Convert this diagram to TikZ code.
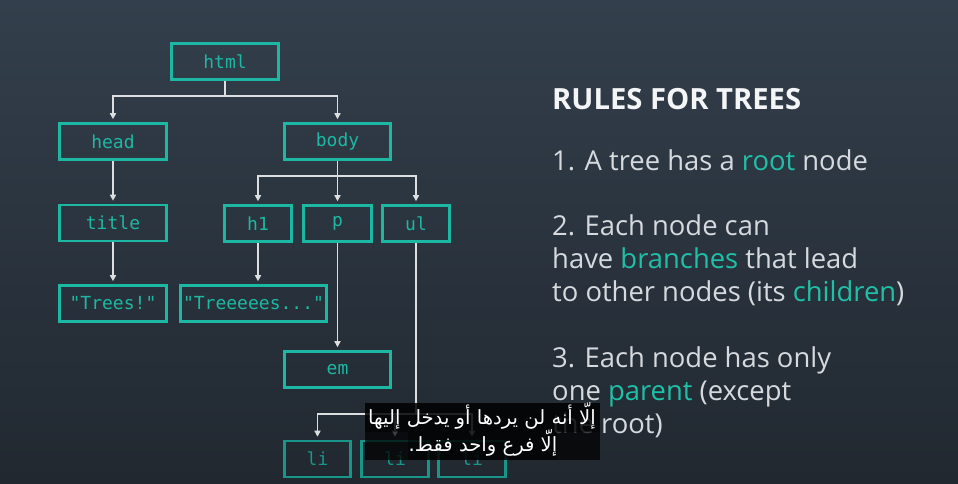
\documentclass[tikz,border=0pt]{standalone}
\usepackage{fontspec}
\setmainfont{Open Sans}
\newfontfamily\codefont{DejaVu Sans Mono}
\newfontfamily\arabicfont[Script=Arabic]{DejaVu Sans}
\TeXXeTstate=1
\usetikzlibrary{arrows.meta}

\definecolor{bgtop}{HTML}{333F4C}
\definecolor{bgmid}{HTML}{2E3946}
\definecolor{bgbot}{HTML}{212830}
\definecolor{boxteal}{HTML}{1DB8A3}
\definecolor{dimteal}{HTML}{18968A}
\definecolor{hlteal}{HTML}{20C0A8}
\definecolor{linegray}{HTML}{DCDEE0}
\definecolor{rulegray}{HTML}{D6DADE}
\definecolor{titlewhite}{HTML}{F4F5F6}

\newcommand{\hlword}[1]{\textcolor{hlteal}{#1}}

\begin{document}
\begin{tikzpicture}[x=1pt,y=-1pt,
  tag/.style={draw=boxteal, line width=2.6pt, text=boxteal,
    font=\codefont\fontsize{18}{20}\selectfont,
    minimum height=36pt, inner sep=0pt},
  dimtag/.style={tag, draw=dimteal, text=dimteal},
  conn/.style={draw=linegray, line width=1.5pt,
    -{Triangle[length=6pt,width=6pt]}, shorten >=3pt},
  rule/.style={anchor=base west, inner sep=0pt, text=rulegray,
    font=\fontsize{27.4}{32}\selectfont},
  subline/.style={anchor=base, inner sep=0pt, text=white,
    font=\arabicfont\fontsize{19.6}{22}\selectfont}]

% canvas
\useasboundingbox (0,0) rectangle (958,483);
\shade[top color=bgtop, middle color=bgmid, bottom color=bgbot]
  (0,0) rectangle (958,483);

% DOM tree
\node[tag, minimum width=107pt] (html)  at (225,61.5)  {html};
\node[tag, minimum width=107pt] (head)  at (113,141.5) {head};
\node[tag, minimum width=106pt] (body)  at (337.5,141.5) {body};
\node[tag, minimum width=107pt] (title) at (113,223)   {title};
\node[tag, minimum width=67pt]  (h1)    at (258,223.5) {h1};
\node[tag, minimum width=68pt]  (p)     at (337.5,223.5) {p};
\node[tag, minimum width=67pt]  (ul)    at (416,223.5) {ul};
\node[tag, minimum width=107pt] (trees) at (113,303.5) {"Trees!"};
\node[tag, minimum width=146pt] (treeeees) at (253.5,303.5) {"Treeeees..."};
\node[tag, minimum width=106pt] (em)    at (337.5,369.5) {em};
\node[dimtag, minimum width=66pt] (lione)   at (317.5,459) {li};
\node[dimtag, minimum width=67pt] (litwo)   at (395,459)   {li};
\node[dimtag, minimum width=67pt] (lithree) at (472,459)   {li};

% branches
\draw[conn] (html.south) -- ++(0,15) -| (head.north);
\draw[conn] (html.south) -- ++(0,15) -| (body.north);
\draw[conn] (head.south) -- (title.north);
\draw[conn] (title.south) -- (trees.north);
\draw[conn] (body.south) -- ++(0,15) -| (h1.north);
\draw[conn] (body.south) -- (p.north);
\draw[conn] (body.south) -- ++(0,15) -| (ul.north);
\draw[conn] (h1.south) -- (h1.south |- treeeees.north);
\draw[conn] (p.south) -- (em.north);
\draw[conn] (ul.south) -- ++(0,171) -| (lione.north);
\draw[conn] (ul.south) -- ++(0,171) -| (litwo.north);
\draw[conn] (ul.south) -- ++(0,171) -| (lithree.north);

% rules
\node[anchor=base west, inner sep=0pt, text=titlewhite,
  font=\bfseries\fontsize{29.2}{32}\selectfont] (rulestitle) at (552,109) {RULES FOR TREES};
\node[rule] (ruleone)   at (552,170) {1. A tree has a \hlword{root} node};
\node[rule] (ruletwoa)  at (552,235) {2. Each node can};
\node[rule] (ruletwob)  at (552,268) {have \hlword{branches} that lead};
\node[rule] (ruletwoc)  at (552,301) {to other nodes (its \hlword{children})};
\node[rule] (rulethra)  at (552,367) {3. Each node has only};
\node[rule] (rulethrb)  at (552,400) {one \hlword{parent} (except};
\node[rule] (rulethrc)  at (552,433) {the root)};

% caption band
\fill[black, opacity=0.72] (365,403) rectangle (600,460);
\fill[black, opacity=0.45] (365,403) rectangle (600,432);
\fill[black, opacity=0.45] (408,432) rectangle (557,460);
\node[subline] (subone) at (482,424) {\beginR إلّا أنه لن يردها أو يدخل إليها\endR};
\node[subline] (subtwo) at (483,451) {\beginR إلّا فرع واحد فقط.\endR};
\end{tikzpicture}
\end{document}
